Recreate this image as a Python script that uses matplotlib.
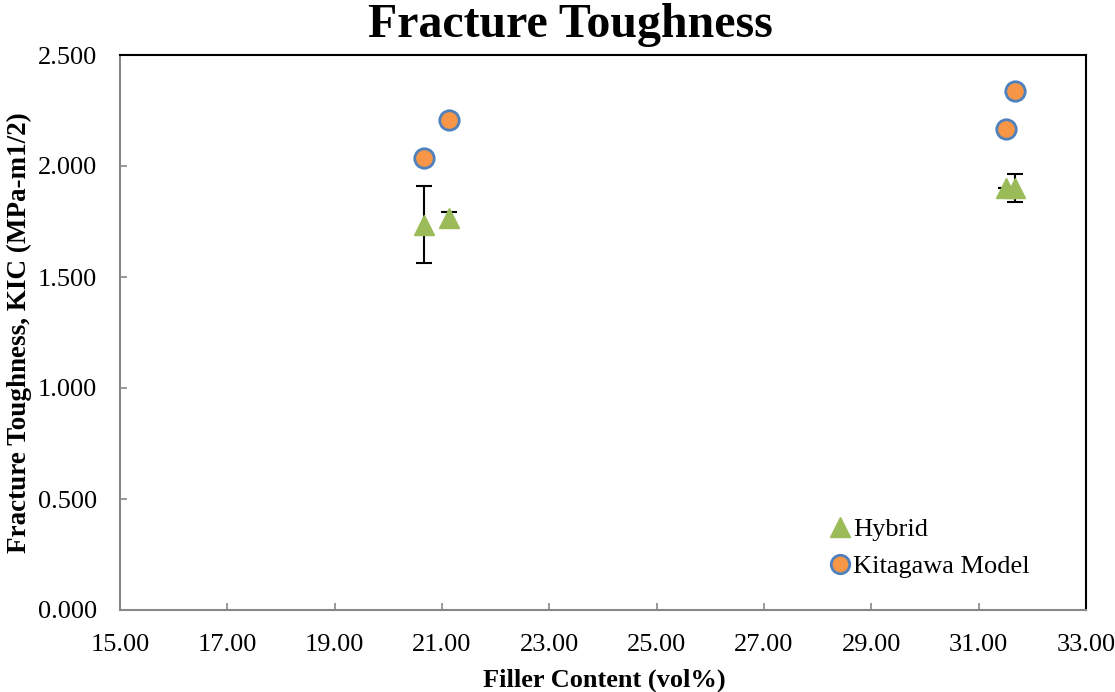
import matplotlib
matplotlib.use("Agg")
import matplotlib.pyplot as plt

plt.rcParams['font.family'] = ['Liberation Serif', 'DejaVu Serif']

# Hybrid composite measurements (filler vol%, K_IC, std dev)
hybrid_x = [20.67, 21.13, 31.50, 31.68]
hybrid_y = [1.735, 1.764, 1.900, 1.900]
hybrid_err = [0.174, 0.030, 0.0, 0.063]

# Kitagawa model predictions
kita_x = [20.67, 21.13, 31.50, 31.68]
kita_y = [2.035, 2.207, 2.166, 2.338]

x_ticks = [15, 17, 19, 21, 23, 25, 27, 29, 31, 33]
y_ticks = [0.0, 0.5, 1.0, 1.5, 2.0, 2.5]

W, H = 1115, 692
L, R, T, B = 120, 1086, 55, 610
fig = plt.figure(figsize=(W / 100, H / 100), dpi=100)
ax = fig.add_axes([L / W, 1 - B / H, (R - L) / W, (B - T) / H])

ax.errorbar(hybrid_x, hybrid_y, yerr=hybrid_err, fmt='none', ecolor='black',
            elinewidth=1.5, capsize=6, capthick=1.5, zorder=2)
ax.plot(hybrid_x, hybrid_y, linestyle='none', marker='^', markersize=15,
        markerfacecolor='#9BBB59', markeredgecolor='#9BBB59', label='Hybrid', zorder=3)
ax.plot(kita_x, kita_y, linestyle='none', marker='o', markersize=14,
        markerfacecolor='#F79646', markeredgecolor='#4F81BD', markeredgewidth=2,
        label='Kitagawa Model', zorder=3)

ax.set_xlim(15, 33)
ax.set_ylim(0, 2.5)
ax.set_xticks(x_ticks)
ax.set_xticklabels([f"{v:.2f}" for v in x_ticks])
ax.set_yticks(y_ticks)
ax.set_yticklabels([f"{v:.3f}" for v in y_ticks])
ax.tick_params(direction='in', length=5, width=1.2, color='#888888', labelsize=19)
ax.tick_params(axis='x', pad=17)
ax.tick_params(axis='y', pad=16.5)

for side in ('left', 'bottom'):
    ax.spines[side].set_color('#888888')
    ax.spines[side].set_linewidth(1.5)
for side in ('top', 'right'):
    ax.spines[side].set_color('black')
    ax.spines[side].set_linewidth(1.5)

ax.set_xlabel('Filler Content (vol%)', fontsize=19, fontweight='bold', va='center')
ax.xaxis.set_label_coords((604 - L) / (R - L), (B - 680) / (B - T))
ax.set_ylabel('Fracture Toughness, KIC (MPa-m1/2)', fontsize=19.5, fontweight='bold',
              va='center')
ax.yaxis.set_label_coords((19 - L) / (R - L), (B - 333) / (B - T))

fig.text(570 / W, 1 - 25 / H, 'Fracture Toughness', ha='center', va='center',
         fontsize=34.5, fontweight='bold')

leg = ax.legend(loc='center left', bbox_to_anchor=(827 / W, 1 - 548 / H),
                bbox_transform=fig.transFigure, frameon=False, fontsize=19,
                handletextpad=0.0, labelspacing=0.5, handlelength=1.0,
                borderpad=0, borderaxespad=0, markerscale=0.95)

fig.savefig('out.png', dpi=100)
